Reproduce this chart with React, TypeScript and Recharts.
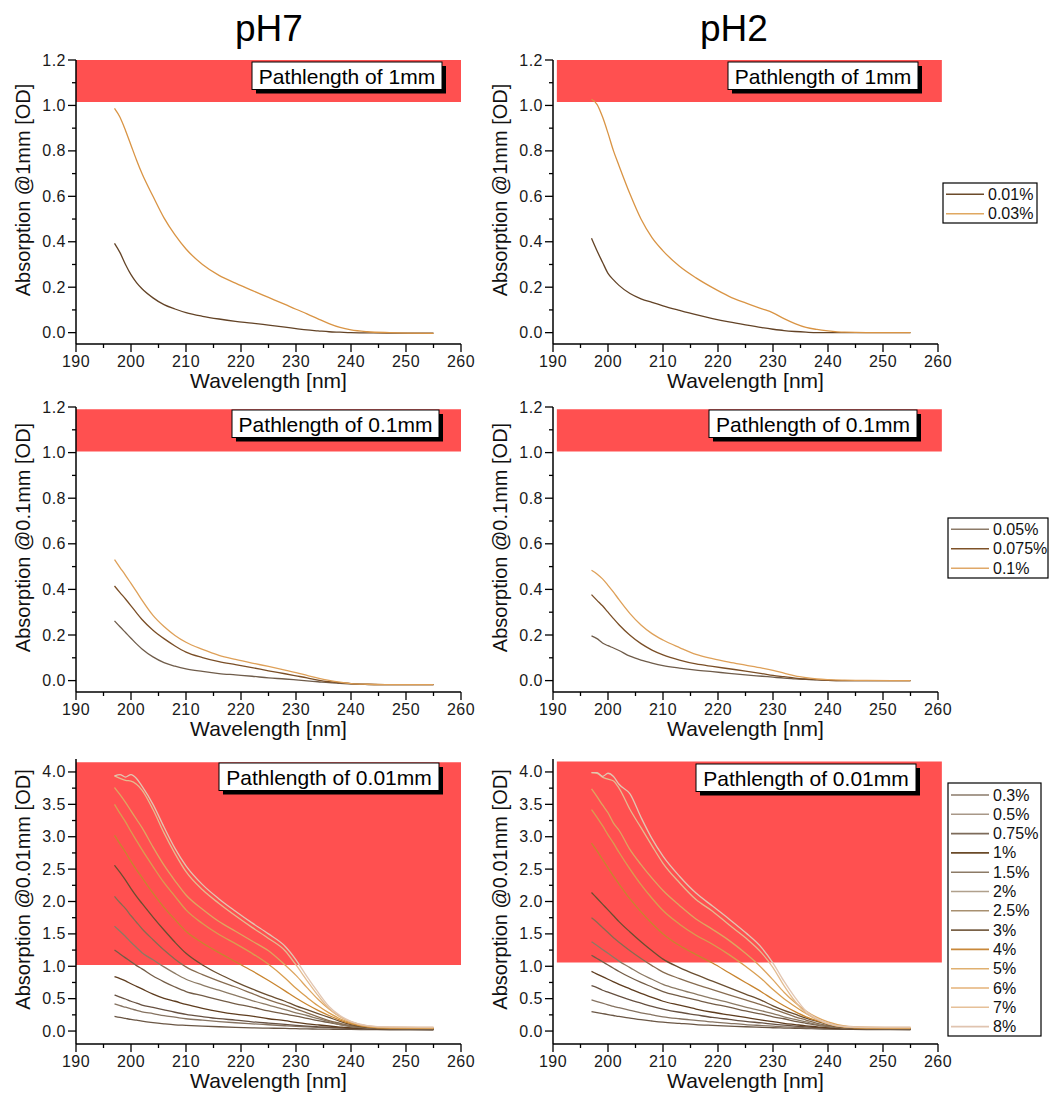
import React from 'react';
import { LineChart, Line, XAxis, YAxis, ReferenceArea } from 'recharts';

const FONT = '"Liberation Sans", Arial, Helvetica, sans-serif';

// ---------------- data ----------------
const WAVELENGTHS = [197, 198, 199, 200, 201, 202, 204, 206, 208, 210, 213, 216, 219, 222, 225, 228, 230, 232, 234, 236, 238, 240, 243, 247, 255];

const X_TICKS = [190, 195, 200, 205, 210, 215, 220, 225, 230, 235, 240, 245, 250, 255, 260];
const Y_TICKS_LOW = [0, 0.1, 0.2, 0.3, 0.4, 0.5, 0.6, 0.7, 0.8, 0.9, 1.0, 1.1, 1.2];
const Y_TICKS_HIGH = [0, 0.25, 0.5, 0.75, 1, 1.25, 1.5, 1.75, 2, 2.25, 2.5, 2.75, 3, 3.25, 3.5, 3.75, 4];

const COLUMN_TITLES = ['pH7', 'pH2'];

// Pathlength 1 mm
const NAMES_1MM = ['0.01%', '0.03%'];
const COLORS_1MM = ['#634326', '#d99444'];
const PH7_1MM_001 = [0.393, 0.352, 0.30, 0.255, 0.22, 0.193, 0.153, 0.123, 0.104, 0.088, 0.072, 0.06, 0.05, 0.042, 0.033, 0.024, 0.018, 0.012, 0.008, 0.004, 0.002, 0, -0.001, -0.002, -0.002];
const PH7_1MM_003 = [0.987, 0.948, 0.89, 0.825, 0.76, 0.70, 0.60, 0.505, 0.43, 0.368, 0.30, 0.252, 0.218, 0.186, 0.155, 0.124, 0.103, 0.083, 0.061, 0.04, 0.023, 0.012, 0.004, 0, -0.003];
const PH2_1MM_001 = [0.415, 0.36, 0.31, 0.261, 0.232, 0.208, 0.172, 0.149, 0.133, 0.118, 0.098, 0.079, 0.062, 0.047, 0.034, 0.022, 0.015, 0.009, 0.005, 0.002, 0, 0, 0, 0, 0];
const PH2_1MM_003 = [1.027, 1.005, 0.95, 0.878, 0.80, 0.735, 0.61, 0.50, 0.418, 0.36, 0.292, 0.241, 0.198, 0.16, 0.131, 0.105, 0.087, 0.062, 0.04, 0.023, 0.014, 0.008, 0.002, 0, 0];

// Pathlength 0.1 mm
const NAMES_01MM = ['0.05%', '0.075%', '0.1%'];
const COLORS_01MM = ['#6f5c4a', '#7a4e26', '#dea058'];
const PH7_01MM_005 = [0.262, 0.236, 0.211, 0.186, 0.161, 0.139, 0.104, 0.079, 0.063, 0.051, 0.04, 0.031, 0.025, 0.019, 0.012, 0.007, 0.003, -0.001, -0.005, -0.009, -0.012, -0.015, -0.017, -0.018, -0.018];
const PH7_01MM_0075 = [0.415, 0.386, 0.358, 0.328, 0.297, 0.268, 0.221, 0.184, 0.152, 0.125, 0.101, 0.083, 0.07, 0.057, 0.043, 0.03, 0.021, 0.012, 0.002, -0.005, -0.009, -0.013, -0.016, -0.018, -0.018];
const PH7_01MM_01 = [0.531, 0.496, 0.462, 0.426, 0.39, 0.353, 0.286, 0.237, 0.198, 0.168, 0.137, 0.111, 0.093, 0.077, 0.062, 0.046, 0.035, 0.023, 0.011, 0.001, -0.007, -0.013, -0.016, -0.018, -0.018];
const PH2_01MM_005 = [0.196, 0.184, 0.165, 0.153, 0.143, 0.132, 0.107, 0.09, 0.077, 0.066, 0.055, 0.046, 0.039, 0.032, 0.025, 0.019, 0.015, 0.011, 0.008, 0.005, 0.003, 0.001, 0, 0, 0];
const PH2_01MM_0075 = [0.377, 0.352, 0.328, 0.30, 0.272, 0.245, 0.199, 0.162, 0.134, 0.113, 0.09, 0.073, 0.062, 0.052, 0.042, 0.031, 0.023, 0.017, 0.011, 0.007, 0.004, 0.001, 0, 0, 0];
const PH2_01MM_01 = [0.484, 0.468, 0.446, 0.418, 0.388, 0.355, 0.294, 0.244, 0.206, 0.178, 0.145, 0.115, 0.096, 0.081, 0.068, 0.055, 0.045, 0.033, 0.021, 0.013, 0.007, 0.004, 0.002, 0.001, 0];

// Pathlength 0.01 mm
const NAMES_001MM = ['0.3%', '0.5%', '0.75%', '1%', '1.5%', '2%', '2.5%', '3%', '4%', '5%', '6%', '7%', '8%'];
const COLORS_001MM = ['#6a5644', '#857260', '#665040', '#5e3c1e', '#735c46', '#8c7a64', '#876c50', '#6a4e30', '#c8842e', '#d99e50', '#dea660', '#e4bc90', '#e2c6b2'];
const LEGEND_COLORS_001MM = ['#8a7a6a', '#a89888', '#7d6b5a', '#6a4a28', '#8c7a66', '#b0a08c', '#a89070', '#7a6248', '#c8883a', '#e0b070', '#e4b278', '#e6c098', '#e0c4b0'];
const PH7_001MM = [
  [0.227, 0.21, 0.195, 0.18, 0.167, 0.152, 0.129, 0.111, 0.096, 0.088, 0.076, 0.066, 0.057, 0.05, 0.045, 0.04, 0.036, 0.032, 0.031, 0.029, 0.026, 0.026, 0.022, 0.02, 0.015],
  [0.42, 0.392, 0.368, 0.342, 0.32, 0.297, 0.27, 0.237, 0.214, 0.19, 0.168, 0.147, 0.128, 0.112, 0.097, 0.082, 0.072, 0.064, 0.058, 0.052, 0.046, 0.041, 0.034, 0.03, 0.025],
  [0.556, 0.525, 0.495, 0.46, 0.432, 0.40, 0.365, 0.327, 0.29, 0.257, 0.222, 0.191, 0.169, 0.143, 0.122, 0.103, 0.088, 0.075, 0.065, 0.057, 0.049, 0.042, 0.035, 0.03, 0.025],
  [0.84, 0.81, 0.775, 0.73, 0.69, 0.65, 0.57, 0.505, 0.46, 0.41, 0.35, 0.30, 0.26, 0.23, 0.19, 0.16, 0.134, 0.112, 0.095, 0.078, 0.062, 0.048, 0.038, 0.03, 0.028],
  [1.25, 1.19, 1.13, 1.07, 1.01, 0.96, 0.85, 0.76, 0.68, 0.61, 0.545, 0.48, 0.42, 0.37, 0.31, 0.26, 0.23, 0.195, 0.16, 0.13, 0.10, 0.07, 0.045, 0.035, 0.03],
  [1.62, 1.54, 1.46, 1.37, 1.29, 1.21, 1.10, 0.99, 0.89, 0.80, 0.71, 0.63, 0.55, 0.47, 0.40, 0.33, 0.28, 0.24, 0.19, 0.145, 0.10, 0.074, 0.05, 0.036, 0.032],
  [2.08, 1.98, 1.89, 1.78, 1.68, 1.58, 1.41, 1.25, 1.11, 0.99, 0.87, 0.77, 0.68, 0.58, 0.48, 0.40, 0.34, 0.28, 0.22, 0.16, 0.12, 0.085, 0.055, 0.04, 0.035],
  [2.56, 2.45, 2.33, 2.20, 2.08, 1.97, 1.76, 1.56, 1.37, 1.20, 1.02, 0.88, 0.76, 0.65, 0.55, 0.46, 0.39, 0.33, 0.27, 0.21, 0.15, 0.10, 0.058, 0.042, 0.038],
  [3.02, 2.89, 2.76, 2.62, 2.49, 2.37, 2.13, 1.91, 1.72, 1.54, 1.36, 1.21, 1.07, 0.93, 0.78, 0.62, 0.51, 0.41, 0.32, 0.24, 0.17, 0.115, 0.065, 0.045, 0.04],
  [3.50, 3.36, 3.23, 3.08, 2.94, 2.80, 2.54, 2.29, 2.08, 1.87, 1.66, 1.49, 1.35, 1.20, 1.03, 0.82, 0.66, 0.52, 0.39, 0.28, 0.19, 0.125, 0.07, 0.05, 0.045],
  [3.76, 3.65, 3.53, 3.40, 3.27, 3.14, 2.84, 2.56, 2.32, 2.10, 1.88, 1.69, 1.54, 1.39, 1.24, 1.02, 0.86, 0.67, 0.49, 0.34, 0.22, 0.14, 0.075, 0.055, 0.05],
  [3.94, 3.90, 3.87, 3.86, 3.81, 3.72, 3.42, 3.06, 2.74, 2.46, 2.18, 1.97, 1.78, 1.60, 1.43, 1.24, 1.02, 0.78, 0.55, 0.35, 0.22, 0.14, 0.08, 0.06, 0.055],
  [3.94, 3.96, 3.92, 3.96, 3.90, 3.78, 3.50, 3.15, 2.82, 2.55, 2.26, 2.04, 1.85, 1.67, 1.50, 1.31, 1.10, 0.84, 0.60, 0.38, 0.24, 0.15, 0.085, 0.065, 0.06],
];
const PH2_001MM = [
  [0.30, 0.285, 0.27, 0.255, 0.24, 0.225, 0.20, 0.175, 0.155, 0.137, 0.118, 0.10, 0.088, 0.077, 0.066, 0.057, 0.051, 0.046, 0.042, 0.038, 0.034, 0.03, 0.026, 0.022, 0.02],
  [0.48, 0.455, 0.43, 0.405, 0.38, 0.36, 0.32, 0.28, 0.25, 0.22, 0.19, 0.165, 0.14, 0.12, 0.10, 0.085, 0.075, 0.065, 0.058, 0.05, 0.045, 0.04, 0.034, 0.03, 0.025],
  [0.70, 0.67, 0.63, 0.60, 0.57, 0.54, 0.48, 0.43, 0.38, 0.34, 0.29, 0.25, 0.21, 0.18, 0.15, 0.125, 0.107, 0.09, 0.077, 0.065, 0.055, 0.045, 0.036, 0.03, 0.025],
  [0.92, 0.88, 0.84, 0.80, 0.76, 0.72, 0.65, 0.58, 0.52, 0.46, 0.40, 0.34, 0.29, 0.25, 0.21, 0.17, 0.145, 0.12, 0.10, 0.08, 0.065, 0.05, 0.038, 0.03, 0.028],
  [1.17, 1.12, 1.07, 1.02, 0.97, 0.92, 0.83, 0.75, 0.68, 0.61, 0.54, 0.48, 0.42, 0.37, 0.31, 0.26, 0.22, 0.19, 0.15, 0.12, 0.09, 0.068, 0.045, 0.035, 0.03],
  [1.38, 1.32, 1.26, 1.20, 1.14, 1.08, 0.98, 0.88, 0.80, 0.72, 0.64, 0.57, 0.50, 0.44, 0.37, 0.31, 0.27, 0.22, 0.18, 0.14, 0.10, 0.075, 0.05, 0.036, 0.032],
  [1.75, 1.68, 1.60, 1.52, 1.44, 1.37, 1.24, 1.12, 1.01, 0.91, 0.81, 0.72, 0.64, 0.56, 0.48, 0.40, 0.34, 0.28, 0.22, 0.17, 0.12, 0.085, 0.05, 0.04, 0.035],
  [2.14, 2.05, 1.96, 1.87, 1.78, 1.69, 1.53, 1.38, 1.24, 1.11, 0.98, 0.87, 0.77, 0.67, 0.57, 0.47, 0.39, 0.32, 0.26, 0.20, 0.15, 0.10, 0.055, 0.042, 0.038],
  [2.90, 2.78, 2.65, 2.52, 2.39, 2.27, 2.04, 1.84, 1.66, 1.50, 1.32, 1.18, 1.05, 0.90, 0.75, 0.60, 0.49, 0.39, 0.30, 0.22, 0.16, 0.11, 0.06, 0.045, 0.04],
  [3.42, 3.30, 3.17, 3.03, 2.90, 2.76, 2.50, 2.26, 2.05, 1.86, 1.65, 1.48, 1.34, 1.18, 1.00, 0.80, 0.64, 0.50, 0.38, 0.27, 0.18, 0.12, 0.07, 0.05, 0.045],
  [3.74, 3.62, 3.49, 3.37, 3.21, 3.10, 2.80, 2.57, 2.36, 2.17, 1.94, 1.73, 1.57, 1.40, 1.20, 0.97, 0.79, 0.60, 0.44, 0.31, 0.21, 0.14, 0.08, 0.06, 0.05],
  [3.99, 3.98, 3.92, 3.89, 3.86, 3.75, 3.42, 3.14, 2.86, 2.59, 2.29, 2.03, 1.85, 1.64, 1.44, 1.20, 0.98, 0.70, 0.46, 0.28, 0.18, 0.11, 0.065, 0.055, 0.055],
  [3.99, 3.99, 3.93, 3.98, 3.93, 3.81, 3.66, 3.30, 2.97, 2.70, 2.39, 2.13, 1.93, 1.73, 1.52, 1.28, 1.05, 0.77, 0.52, 0.31, 0.19, 0.12, 0.07, 0.06, 0.06],
];

// ---------------- layout ----------------
const RED = '#ff5050';
const CHART_W = 480;
const COL_LEFT = [0, 477];
const Y_AXIS_W = 76;
const PLOT_W = 385;
const TOP_M = 10;
const BOTTOM_AXIS_H = 30;

const tickText: React.CSSProperties = { fontFamily: FONT, fontSize: 16, fill: '#1a1a1a', letterSpacing: 0.5 };

const majorX = (v: number) => Math.round(v) % 10 === 0;
const majorLow = (v: number) => Math.round(v * 10) % 2 === 0;
const majorHigh = (v: number) => Math.round(v * 4) % 2 === 0;

const bottomTick = (p: any) => {
  const v = p.payload.value;
  const m = majorX(v);
  return (
    <g>
      <line x1={p.x} x2={p.x} y1={p.y} y2={p.y + (m ? 8 : 4)} stroke="#000" strokeWidth={1.3} />
      {m && (
        <text x={p.x} y={p.y + 17} textAnchor="middle" dominantBaseline="central" style={tickText}>
          {v}
        </text>
      )}
    </g>
  );
};
const topTick = (p: any) => {
  const v = p.payload.value;
  const m = majorX(v);
  return <line x1={p.x} x2={p.x} y1={p.y} y2={p.y + (m ? 6 : 3)} stroke="#000" strokeWidth={1.3} />;
};
const leftTick = (isMajor: (v: number) => boolean) => (p: any) => {
  const v = p.payload.value;
  const m = isMajor(v);
  return (
    <g>
      <line x1={p.x - (m ? 8 : 4)} x2={p.x} y1={p.y} y2={p.y} stroke="#000" strokeWidth={1.3} />
      {m && (
        <text x={p.x - 10} y={p.y} textAnchor="end" dominantBaseline="central" style={tickText}>
          {v.toFixed(1)}
        </text>
      )}
    </g>
  );
};
const rightTick = (isMajor: (v: number) => boolean) => (p: any) => {
  const v = p.payload.value;
  const m = isMajor(v);
  return <line x1={p.x - (m ? 6 : 3)} x2={p.x} y1={p.y} y2={p.y} stroke="#000" strokeWidth={1.3} />;
};

type PanelCfg = {
  col: number;
  plotTop: number;
  plotH: number;
  yDomain: [number, number];
  yTicks: number[];
  isMajor: (v: number) => boolean;
  red: { x1: number; x2: number; y1: number; y2: number };
  series: number[][];
  colors: string[];
};

const ROWS = [
  { plotTop: 60, plotH: 284, yDomain: [-0.05, 1.2] as [number, number], yTicks: Y_TICKS_LOW, isMajor: majorLow },
  { plotTop: 407, plotH: 285, yDomain: [-0.05, 1.2] as [number, number], yTicks: Y_TICKS_LOW, isMajor: majorLow },
  { plotTop: 759, plotH: 285, yDomain: [-0.2, 4.2] as [number, number], yTicks: Y_TICKS_HIGH, isMajor: majorHigh },
];

const PANELS: PanelCfg[] = [
  { col: 0, ...ROWS[0], red: { x1: 190, x2: 260, y1: 1.015, y2: 1.2 }, series: [PH7_1MM_001, PH7_1MM_003], colors: COLORS_1MM },
  { col: 1, ...ROWS[0], red: { x1: 190.7, x2: 260.7, y1: 1.015, y2: 1.2 }, series: [PH2_1MM_001, PH2_1MM_003], colors: COLORS_1MM },
  { col: 0, ...ROWS[1], red: { x1: 190, x2: 260, y1: 1.005, y2: 1.19 }, series: [PH7_01MM_005, PH7_01MM_0075, PH7_01MM_01], colors: COLORS_01MM },
  { col: 1, ...ROWS[1], red: { x1: 190.7, x2: 260.7, y1: 1.005, y2: 1.19 }, series: [PH2_01MM_005, PH2_01MM_0075, PH2_01MM_01], colors: COLORS_01MM },
  { col: 0, ...ROWS[2], red: { x1: 190, x2: 260, y1: 1.02, y2: 4.15 }, series: PH7_001MM, colors: COLORS_001MM },
  { col: 1, ...ROWS[2], red: { x1: 190.7, x2: 260.7, y1: 1.06, y2: 4.16 }, series: PH2_001MM, colors: COLORS_001MM },
];

function Panel({ cfg }: { cfg: PanelCfg }) {
  const data = WAVELENGTHS.map((wl, i) => {
    const row: Record<string, number> = { wl };
    cfg.series.forEach((s, j) => {
      row['s' + j] = s[i];
    });
    return row;
  });
  const axisLine = { stroke: '#000', strokeWidth: 1.5 };
  return (
    <div style={{ position: 'absolute', left: COL_LEFT[cfg.col], top: cfg.plotTop - TOP_M }}>
      <LineChart
        width={CHART_W}
        height={TOP_M + cfg.plotH + BOTTOM_AXIS_H}
        data={data}
        margin={{ top: TOP_M, right: CHART_W - Y_AXIS_W - PLOT_W, bottom: 0, left: 0 }}
      >
        <XAxis xAxisId="b" dataKey="wl" type="number" domain={[190, 260]} allowDataOverflow ticks={X_TICKS} interval={0}
          tickSize={0} tickMargin={0} height={BOTTOM_AXIS_H} tick={bottomTick} tickLine={false} axisLine={axisLine} />
        <XAxis xAxisId="t" orientation="top" dataKey="wl" type="number" domain={[190, 260]} allowDataOverflow ticks={X_TICKS} interval={0}
          tickSize={0} tickMargin={0} height={0} tick={topTick} tickLine={false} axisLine={axisLine} />
        <YAxis yAxisId="l" type="number" domain={cfg.yDomain} allowDataOverflow ticks={cfg.yTicks} interval={0}
          tickSize={0} tickMargin={0} width={Y_AXIS_W} tick={leftTick(cfg.isMajor)} tickLine={false} axisLine={axisLine} />
        <YAxis yAxisId="r" orientation="right" type="number" domain={cfg.yDomain} allowDataOverflow ticks={cfg.yTicks} interval={0}
          tickSize={0} tickMargin={0} width={0} tick={rightTick(cfg.isMajor)} tickLine={false} axisLine={axisLine} />
        <ReferenceArea xAxisId="b" yAxisId="l" x1={cfg.red.x1} x2={cfg.red.x2} y1={cfg.red.y1} y2={cfg.red.y2}
          fill={RED} fillOpacity={1} stroke="none" ifOverflow="visible" />
        {cfg.series.map((_, j) => (
          <Line key={j} xAxisId="b" yAxisId="l" type="monotone" dataKey={'s' + j} stroke={cfg.colors[j]} strokeWidth={1.3}
            dot={false} activeDot={false} isAnimationActive={false} />
        ))}
      </LineChart>
    </div>
  );
}

const PATH_LABELS = ['Pathlength of 1mm', 'Pathlength of 0.1mm', 'Pathlength of 0.01mm'];
const PATH_BOXES = [
  [{ x: 252, y: 62, w: 190 }, { x: 728, y: 62, w: 190 }],
  [{ x: 232, y: 410, w: 207 }, { x: 709, y: 410, w: 208 }],
  [{ x: 219, y: 763, w: 220 }, { x: 696, y: 764, w: 220 }],
];
const Y_TITLES = ['Absorption @1mm [OD]', 'Absorption @0.1mm [OD]', 'Absorption @0.01mm [OD]'];
const LEGENDS = [
  { x: 943, y: 183, w: 94, h: 40, first: 194.3, step: 19.4, names: NAMES_1MM, colors: ['#6b4a2a', '#e0a860'] },
  { x: 948, y: 518, w: 100, h: 60, first: 529.3, step: 19.5, names: NAMES_01MM, colors: ['#8c7a68', '#7e5228', '#e0a868'] },
  { x: 948, y: 783, w: 93, h: 253, first: 795, step: 19.3, names: NAMES_001MM, colors: LEGEND_COLORS_001MM },
];

function Overlay() {
  const plotCenters = COL_LEFT.map((l) => l + Y_AXIS_W + PLOT_W / 2);
  return (
    <svg width={1051} height={1095} style={{ position: 'absolute', left: 0, top: 0, pointerEvents: 'none' }}>
      {COLUMN_TITLES.map((t, c) => (
        <text key={t} x={c === 0 ? 269 : 734} y={41} textAnchor="middle" style={{ fontFamily: FONT, fontSize: 37, fill: '#000' }}>
          {t}
        </text>
      ))}
      {ROWS.map((r, ri) =>
        [0, 1].map((c) => {
          const cx = plotCenters[c];
          const bottom = r.plotTop + r.plotH;
          const ty = r.plotTop + r.plotH / 2 - 12;
          const tx = COL_LEFT[c] + Y_AXIS_W - 53;
          const b = PATH_BOXES[ri][c];
          return (
            <g key={ri + '-' + c}>
              <text x={cx} y={bottom + 44} textAnchor="middle" style={{ fontFamily: FONT, fontSize: 21, fill: '#111' }}>
                Wavelength [nm]
              </text>
              <text x={tx} y={ty} textAnchor="middle" dominantBaseline="central" transform={`rotate(-90 ${tx} ${ty})`}
                style={{ fontFamily: FONT, fontSize: 20, fill: '#111' }}>
                {Y_TITLES[ri]}
              </text>
              <rect x={b.x + 4} y={b.y + 4} width={b.w} height={27.5} fill="#000" />
              <rect x={b.x} y={b.y} width={b.w} height={27.5} fill="#fff" stroke="#000" strokeWidth={1} />
              <text x={b.x + b.w / 2} y={b.y + 14.5} textAnchor="middle" dominantBaseline="central"
                style={{ fontFamily: FONT, fontSize: 21, fill: '#000' }}>
                {PATH_LABELS[ri]}
              </text>
            </g>
          );
        })
      )}
      {LEGENDS.map((lg, li) => (
        <g key={li}>
          <rect x={lg.x} y={lg.y} width={lg.w} height={lg.h} fill="#fff" stroke="#000" strokeWidth={1.2} />
          {lg.names.map((n, i) => {
            const yy = lg.first + i * lg.step;
            return (
              <g key={n}>
                <line x1={lg.x + 3} x2={lg.x + 41} y1={yy} y2={yy} stroke={lg.colors[i]} strokeWidth={1.6} />
                <text x={lg.x + 45} y={yy} dominantBaseline="central" style={{ fontFamily: FONT, fontSize: 16, fill: '#111' }}>
                  {n}
                </text>
              </g>
            );
          })}
        </g>
      ))}
    </svg>
  );
}

export default function App() {
  return (
    <div style={{ position: 'absolute', left: 0, top: 0, width: 1051, height: 1095, background: '#fff', overflow: 'hidden' }}>
      {PANELS.map((p, i) => (
        <Panel key={i} cfg={p} />
      ))}
      <Overlay />
    </div>
  );
}
